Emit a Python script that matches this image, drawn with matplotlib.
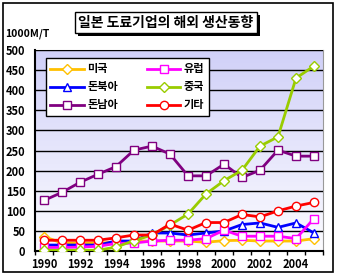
import numpy as np
import matplotlib
matplotlib.use("Agg")
import matplotlib.pyplot as plt
from matplotlib.patches import Rectangle

plt.rcParams['font.family'] = ['Noto Sans CJK KR', 'DejaVu Sans']

years = list(range(1990, 2006))
usa = [36, 20, 20, 20, 22, 25, 25, 25, 25, 22, 26, 27, 25, 25, 25, 31]
europe = [9, 9, 10, 12, 19, 20, 25, 27, 27, 31, 52, 37, 37, 37, 31, 81]
ne_asia = [15, 15, 15, 15, 25, 25, 45, 45, 40, 45, 50, 66, 70, 59, 70, 45]
china = [2, 2, 2, 2, 10, 26, 40, 65, 92, 142, 175, 201, 261, 284, 430, 460]
se_asia = [126, 146, 171, 191, 210, 251, 261, 241, 187, 187, 216, 183, 201, 251, 236, 236]
others = [27, 27, 27, 27, 33, 40, 40, 67, 52, 71, 71, 91, 85, 100, 112, 121]

series = [
    ("미국", usa, "#ffc000", "D", 5),
    ("돈북아", ne_asia, "#0000ff", "^", 6),
    ("돈남아", se_asia, "#800080", "s", 6),
    ("유럽", europe, "#ff00ff", "s", 6),
    ("중국", china, "#99cc00", "D", 5),
    ("기타", others, "#ff0000", "o", 6),
]

fig = plt.figure(figsize=(3.4, 2.79), dpi=100)
fig.patches.append(Rectangle((0.009, 0.025), 0.971, 0.964, transform=fig.transFigure,
                             fill=False, edgecolor="black", linewidth=1.2))
ax = fig.add_axes([0.103, 0.100, 0.847, 0.721])

# gradient background
grad = np.linspace(0, 1, 100).reshape(-1, 1)
top = np.array([208, 208, 248]) / 255
bot = np.array([252, 252, 255]) / 255
img = top + (bot - top) * grad[:, :, None]
ax.imshow(img, extent=[-0.5, 15.5, 0, 500], aspect="auto", origin="upper", zorder=0)

x = np.arange(len(years))
for name, vals, col, mk, ms in series:
    ax.plot(x, vals, color=col, linewidth=2, marker=mk, markersize=ms,
            markerfacecolor="white", markeredgecolor=col, markeredgewidth=1,
            label=name, zorder=3)

ax.set_xlim(-0.5, 15.5)
ax.set_ylim(0, 500)
ax.set_yticks(range(0, 501, 50))
ax.yaxis.grid(True, color="black", linewidth=1)
ax.set_axisbelow(False)
for gl in ax.get_ygridlines():
    gl.set_zorder(1)
ax.tick_params(axis="y", length=0, pad=7, labelsize=8)
ax.set_xticks(np.arange(-0.5, 16, 1), minor=True)
ax.set_xticks(x[::2])
ax.set_xticklabels([str(y) for y in years[::2]])
ax.tick_params(axis="x", which="major", length=0, pad=5, labelsize=8)
ax.tick_params(axis="x", which="minor", length=3, width=1)
for lab in ax.get_xticklabels() + ax.get_yticklabels():
    lab.set_fontweight("bold")
ax.spines["top"].set_color("#999999")
ax.spines["right"].set_color("#999999")
ax.spines["left"].set_linewidth(1.5)
ax.spines["bottom"].set_linewidth(1.5)

leg = ax.legend(ncol=2, loc="upper left", bbox_to_anchor=(0.038, 0.70, 0.565, 0.26),
                mode="expand", fancybox=False, framealpha=1, edgecolor="black",
                prop={"size": 8, "weight": "bold"}, handlelength=3,
                borderpad=0.4, labelspacing=0.45, handletextpad=0.3, borderaxespad=0)
leg.get_frame().set_linewidth(1)
leg.set_zorder(5)

title = fig.text(0.487, 0.919, "일본 도료기업의 해외 생산동향", ha="center", va="center",
                 fontsize=10, fontweight="bold", color="black", zorder=3,
                 bbox=dict(boxstyle="square,pad=0.25", facecolor="white",
                           edgecolor="black", linewidth=1))
fig.canvas.draw()
bb = title.get_bbox_patch().get_window_extent().transformed(fig.transFigure.inverted())
fig.patches.append(Rectangle((bb.x0 + 3 / 340, bb.y0 - 3 / 279), bb.width, bb.height,
                             transform=fig.transFigure, facecolor="black",
                             edgecolor="none", zorder=1))
fig.text(0.015, 0.878, "1000M/T", ha="left", va="center", fontsize=7.5, fontweight="bold")

fig.savefig("out.png", dpi=100)
